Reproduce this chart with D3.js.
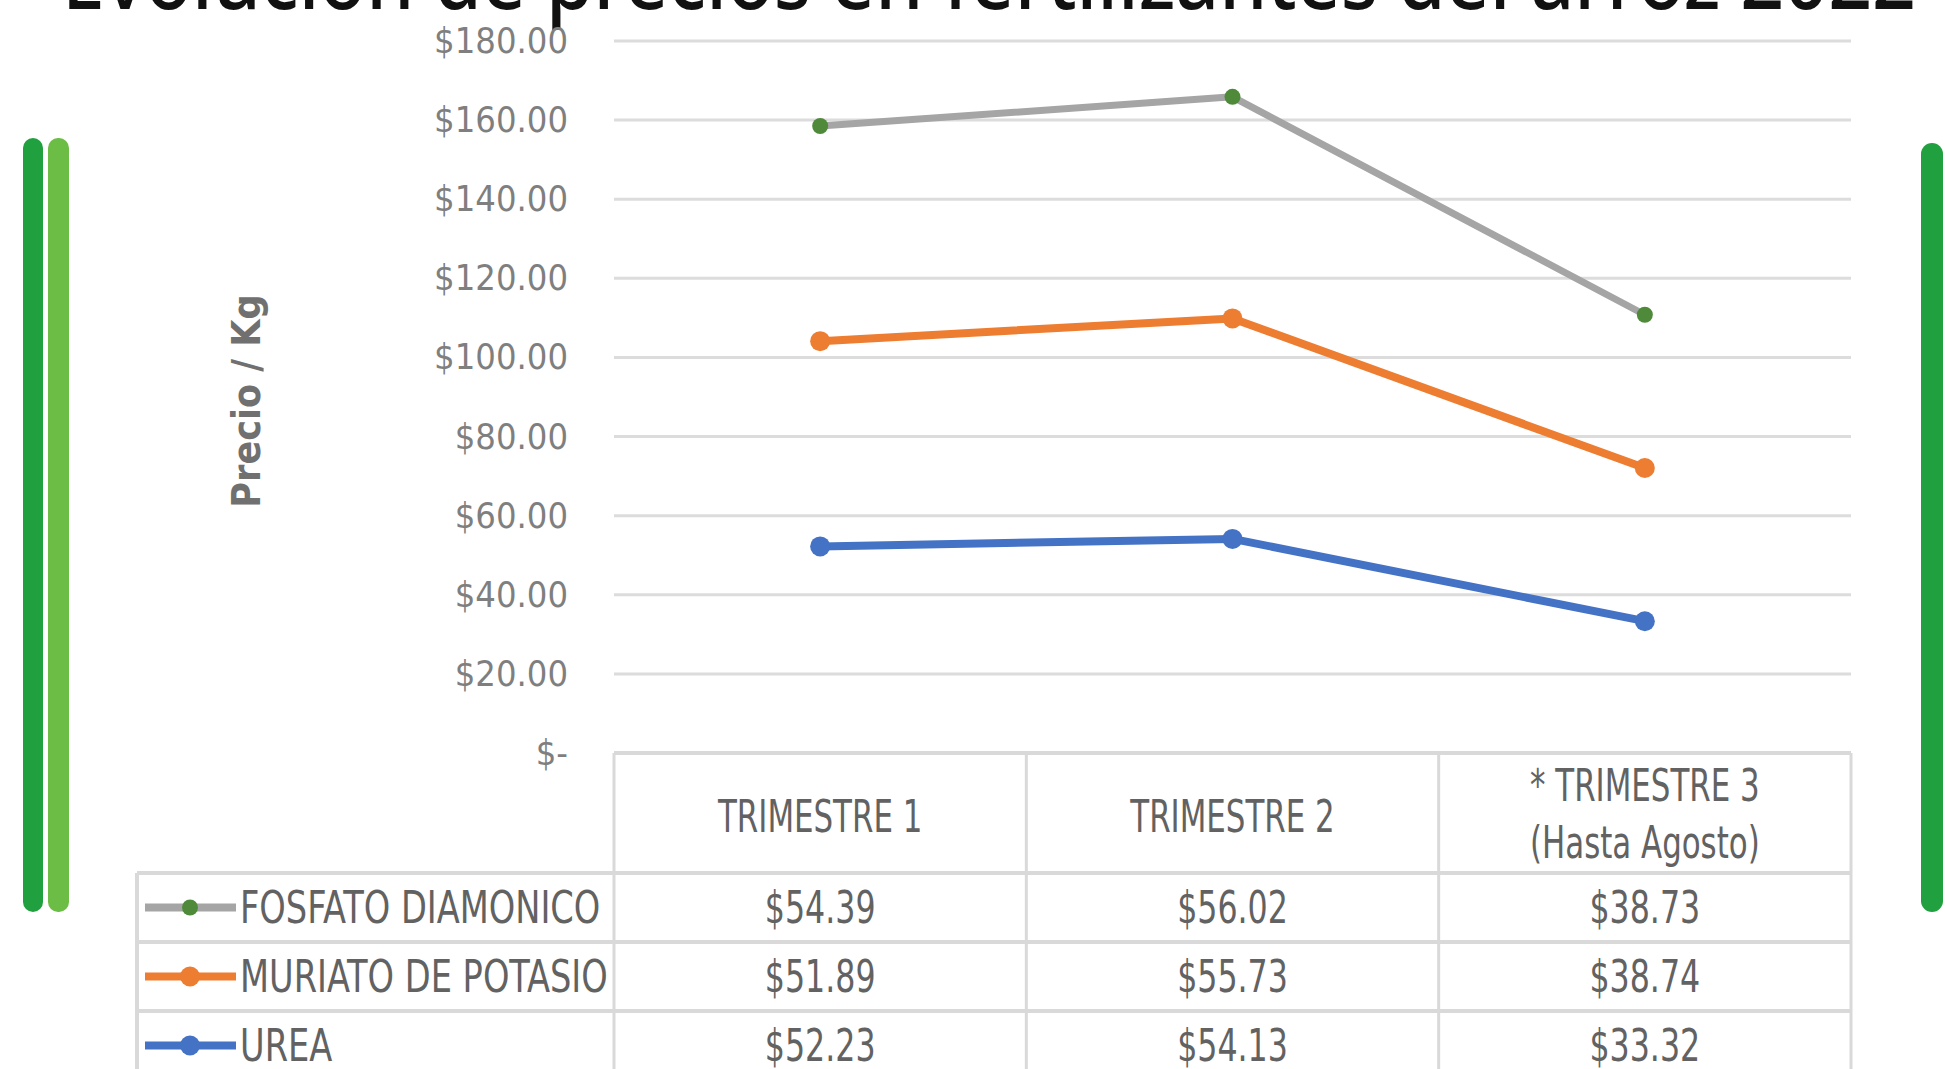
<!DOCTYPE html>
<html>
<head>
<meta charset="utf-8">
<script src="https://cdn.jsdelivr.net/npm/d3@7"></script>
<style>
  html, body { margin: 0; padding: 0; background: #fff; overflow: hidden; }
</style>
</head>
<body>
<div id="chart"></div>
<script>
// data
var categories = ["TRIMESTRE 1", "TRIMESTRE 2", "TRIMESTRE 3"];
var headerLines = [["TRIMESTRE 1"], ["TRIMESTRE 2"], ["* TRIMESTRE 3", "(Hasta Agosto)"]];
var seriesNames = ["FOSFATO DIAMONICO", "MURIATO DE POTASIO", "UREA"];
var fosfato = [54.39, 56.02, 38.73];
var muriato = [51.89, 55.73, 38.74];
var urea = [52.23, 54.13, 33.32];
var yTicks = [0, 20, 40, 60, 80, 100, 120, 140, 160, 180];

var lineColors = ["#a5a5a5", "#ed7d31", "#4472c4"];
var markerColors = ["#4e8a3a", "#ed7d31", "#4472c4"];

var width = 1945, height = 1069;
var plot = { left: 614, right: 1851, top: 41, bottom: 753 };
var table = { left: 137, headerBottom: 873, rowH: 69 };
var narrow = "'Liberation Sans Narrow', 'DejaVu Sans Condensed', 'Arial Narrow', sans-serif";
var tableGray = "#626262";

var svg = d3.select("#chart")
    .append("svg")
    .attr("width", width)
    .attr("height", height);

// build rows for the stack (urea at the bottom, fosfato on top)
var rows = categories.map(function(c, i) {
    return { cat: c, "UREA": urea[i], "MURIATO DE POTASIO": muriato[i], "FOSFATO DIAMONICO": fosfato[i] };
});
var stack = d3.stack().keys(["UREA", "MURIATO DE POTASIO", "FOSFATO DIAMONICO"]);
var stacked = stack(rows);

//scales
const xScale = d3.scaleBand()
    .domain(categories)
    .range([plot.left, plot.right]);

const yScale = d3.scaleLinear()
    .domain([0, 180])
    .range([plot.bottom, plot.top]);

// squeezed text, the table font in the picture is tall and narrow
function squeezed(g, x, y, txt, size, sx, anchor) {
    return g.append("text")
        .attr("transform", "translate(" + x + "," + y + ") scale(" + sx + ",1)")
        .attr("text-anchor", anchor || "middle")
        .style("font-family", narrow)
        .style("font-size", size + "px")
        .style("fill", tableGray)
        .text(txt);
}

//decorative green bars
svg.append("rect").attr("x", 23).attr("y", 138).attr("width", 20).attr("height", 774).attr("rx", 10).attr("fill", "#21a03f");
svg.append("rect").attr("x", 48).attr("y", 138).attr("width", 21).attr("height", 774).attr("rx", 10).attr("fill", "#6cbd45");
svg.append("rect").attr("x", 1921).attr("y", 143).attr("width", 22).attr("height", 769).attr("rx", 11).attr("fill", "#21a03f");

//title (cut off at the top)
svg.append("text")
    .attr("x", 62)
    .attr("y", 9)
    .attr("textLength", 1854)
    .attr("lengthAdjust", "spacingAndGlyphs")
    .style("font-family", "'Noto Sans', 'Open Sans', sans-serif")
    .style("font-size", "88px")
    .style("font-weight", 500)
    .style("fill", "#111")
    .text("Evolución de precios en fertilizantes del arroz 2022");

//gridlines
svg.append("g")
    .selectAll("line")
    .data(yTicks.filter(function(d) { return d > 0; }))
    .enter()
    .append("line")
    .attr("x1", plot.left)
    .attr("x2", plot.right)
    .attr("y1", function(d) { return yScale(d); })
    .attr("y2", function(d) { return yScale(d); })
    .attr("stroke", "#dcdcdc")
    .attr("stroke-width", 3);

//y axis labels
var y_axis = d3.axisLeft(yScale)
    .tickValues(yTicks)
    .tickSize(0)
    .tickPadding(46)
    .tickFormat(function(d) { return d === 0 ? "$-" : "$" + d3.format(".2f")(d); });

var yg = svg.append("g")
    .attr("transform", "translate(" + plot.left + ",0)")
    .call(y_axis);
yg.select(".domain").remove();
yg.selectAll("text")
    .style("font-family", narrow)
    .style("font-size", "36px")
    .style("fill", "#7f7f7f");

//y-axis label
svg.append("text")
    .attr("transform", "translate(260,401) rotate(-90)")
    .attr("text-anchor", "middle")
    .style("font-family", narrow)
    .style("font-size", "39px")
    .style("font-weight", 700)
    .style("fill", "#707070")
    .text("Precio / Kg");

//lines
var line = d3.line()
    .x(function(d) { return xScale(d.data.cat) + xScale.bandwidth() / 2; })
    .y(function(d) { return yScale(d[1]); });

var layers = stacked.slice().reverse(); // fosfato, muriato, urea
layers.forEach(function(layer, i) {
    svg.append("path")
        .datum(layer)
        .attr("d", line)
        .attr("fill", "none")
        .attr("stroke", lineColors[i])
        .attr("stroke-width", i === 0 ? 7 : 8)
        .attr("stroke-linejoin", "round");

    svg.selectAll(null)
        .data(layer)
        .enter()
        .append("circle")
        .attr("cx", function(d) { return xScale(d.data.cat) + xScale.bandwidth() / 2; })
        .attr("cy", function(d) { return yScale(d[1]); })
        .attr("r", i === 0 ? 8 : 10)
        .attr("fill", markerColors[i]);
});

//data table
var tg = svg.append("g");
var border = "#d9d9d9";
var tableBottom = table.headerBottom + table.rowH * 3;

// horizontal borders
tg.append("line").attr("x1", plot.left).attr("x2", plot.right).attr("y1", plot.bottom).attr("y2", plot.bottom)
    .attr("stroke", border).attr("stroke-width", 4);
[0, 1, 2, 3].forEach(function(k) {
    var y = table.headerBottom + table.rowH * k;
    tg.append("line").attr("x1", table.left).attr("x2", plot.right).attr("y1", y).attr("y2", y)
        .attr("stroke", border).attr("stroke-width", 4);
});
// vertical borders
tg.append("line").attr("x1", table.left).attr("x2", table.left).attr("y1", table.headerBottom).attr("y2", tableBottom)
    .attr("stroke", border).attr("stroke-width", 4);
categories.concat(["end"]).forEach(function(c, k) {
    var x = k < 3 ? xScale(c) : plot.right;
    tg.append("line").attr("x1", x).attr("x2", x).attr("y1", plot.bottom).attr("y2", tableBottom)
        .attr("stroke", border).attr("stroke-width", 3);
});

// header labels
categories.forEach(function(c, i) {
    var lines = headerLines[i];
    var cx = xScale(c) + xScale.bandwidth() / 2;
    lines.forEach(function(t, j) {
        squeezed(tg, cx, lines.length === 1 ? 832 : 801 + j * 57, t, 44, 0.78);
    });
});

// rows
var seriesValues = [fosfato, muriato, urea];
seriesNames.forEach(function(name, i) {
    var cy = table.headerBottom + table.rowH * i + table.rowH / 2;
    // legend key
    tg.append("line").attr("x1", 145).attr("x2", 236).attr("y1", cy).attr("y2", cy)
        .attr("stroke", lineColors[i]).attr("stroke-width", 8);
    tg.append("circle").attr("cx", 190).attr("cy", cy).attr("r", i === 0 ? 8 : 10).attr("fill", markerColors[i]);
    squeezed(tg, 240, cy + 15, name, 44, 0.85, "start");
    seriesValues[i].forEach(function(v, j) {
        squeezed(tg, xScale(categories[j]) + xScale.bandwidth() / 2, cy + 15,
            "$" + d3.format(".2f")(v), 44, 0.8);
    });
});
</script>
</body>
</html>
